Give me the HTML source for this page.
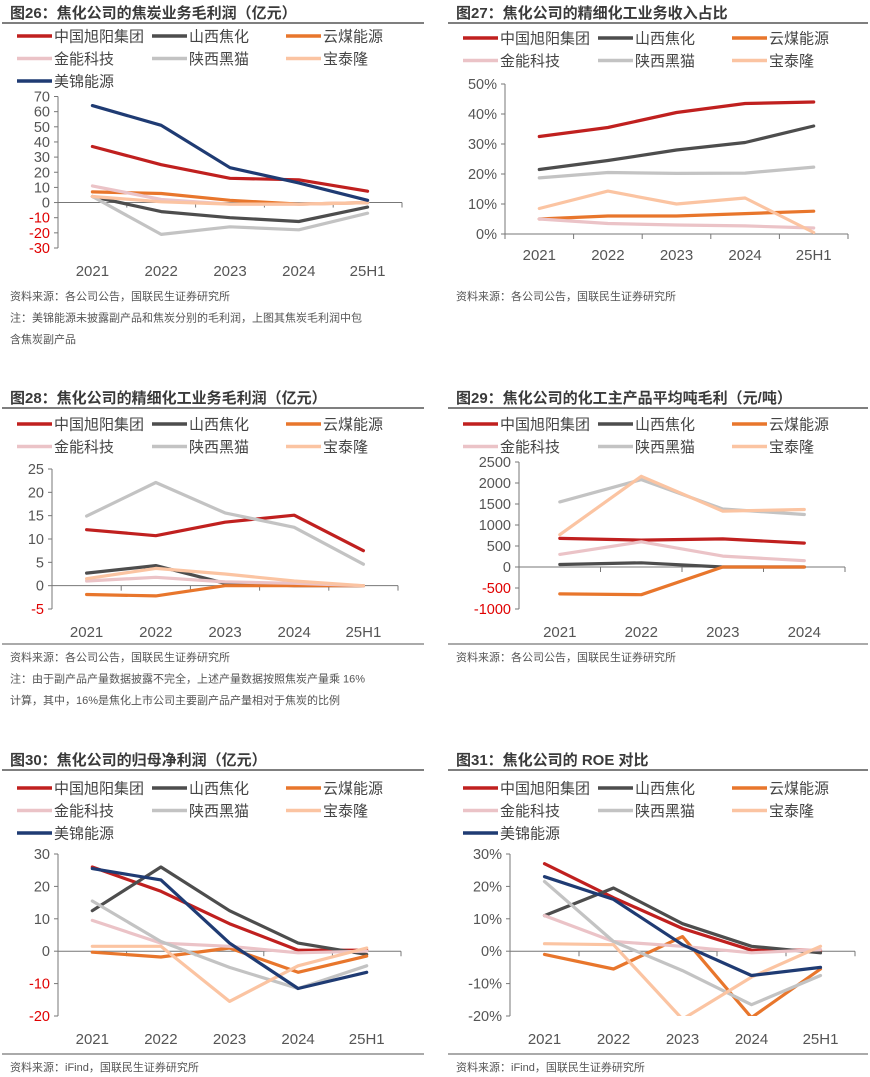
<!DOCTYPE html>
<html><head><meta charset="utf-8">
<style>
html,body{margin:0;padding:0;background:#fff;}
svg{display:block;font-family:"Liberation Sans","Noto Sans CJK SC",sans-serif;}
</style></head>
<body>
<svg id="page" width="870" height="1077" viewBox="0 0 870 1077" xmlns="http://www.w3.org/2000/svg"></svg>
<script>
// ---------- data ----------
const seriesNames = ['中国旭阳集团','山西焦化','云煤能源','金能科技','陕西黑猫','宝泰隆','美锦能源'];
const seriesColors = ['#c0201f','#4d4d4d','#e8762c','#ebc3c7','#c3c3c3','#fbc4a2','#1f3b73'];
const cats5 = ['2021','2022','2023','2024','25H1'];
const cats4 = ['2021','2022','2023','2024'];

// Fig 26
const c26_xuyang = [37,25,16,15,7.5];
const c26_shanxi = [4,-6,-10,-12.5,-3];
const c26_yunmei = [7,6,1.5,-1,0];
const c26_jinneng = [11,2,-1,-1,0];
const c26_heimao = [4,-21,-16,-18,-7];
const c26_baotai = [4,0.5,-1,-1,0];
const c26_meijin = [64,51,23,13,1.5];
const c26_ticks = [70,60,50,40,30,20,10,0,-10,-20,-30];

// Fig 27 (%)
const c27_xuyang = [32.5,35.5,40.5,43.5,44];
const c27_shanxi = [21.5,24.5,28,30.5,36];
const c27_yunmei = [5,6,6,6.8,7.6];
const c27_jinneng = [5,3.5,3,2.7,2];
const c27_heimao = [18.7,20.5,20.2,20.3,22.3];
const c27_baotai = [8.5,14.3,10,12,0.5];
const c27_ticks = [50,40,30,20,10,0];

// Fig 28
const c28_xuyang = [12,10.7,13.6,15.1,7.5];
const c28_shanxi = [2.7,4.3,0.5,0,0];
const c28_yunmei = [-1.9,-2.2,0,0,0];
const c28_jinneng = [1,1.8,0.8,0.5,0];
const c28_heimao = [14.9,22.1,15.6,12.5,4.6];
const c28_baotai = [1.5,3.7,2.5,1,0];
const c28_ticks = [25,20,15,10,5,0,-5];

// Fig 29
const c29_xuyang = [680,640,670,570];
const c29_shanxi = [60,100,0,0];
const c29_yunmei = [-640,-660,0,0];
const c29_jinneng = [300,600,260,150];
const c29_heimao = [1550,2080,1380,1250];
const c29_baotai = [770,2160,1330,1370];
const c29_ticks = [2500,2000,1500,1000,500,0,-500,-1000];

// Fig 30
const c30_xuyang = [26,18.5,8.5,0.3,0.3];
const c30_shanxi = [12.5,26,12.5,2.5,-1];
const c30_yunmei = [-0.3,-1.8,1,-6.5,-1.5];
const c30_jinneng = [9.5,2.5,1.5,-0.5,0];
const c30_heimao = [15.5,3,-5,-11.5,-4.5];
const c30_baotai = [1.5,1.5,-15.5,-4.5,1];
const c30_meijin = [25.5,22,2.5,-11.5,-6.5];
const c30_ticks = [30,20,10,0,-10,-20];

// Fig 31 (%)
const c31_xuyang = [27,16.5,7,0.3,0.3];
const c31_shanxi = [11,19.5,8.5,1.5,-0.5];
const c31_yunmei = [-1,-5.5,4.5,-20.5,-5.5];
const c31_jinneng = [11,3,1.5,-0.5,0.5];
const c31_heimao = [21.5,3,-6,-16.5,-7.5];
const c31_baotai = [2.3,2,-21,-8,1.5];
const c31_meijin = [23,16,2,-7.5,-5];
const c31_ticks = [30,20,10,0,-10,-20];

// ---------- drawing ----------
const NS='http://www.w3.org/2000/svg';
const svg=document.getElementById('page');
function mk(tag,attrs,parent,txt){
  const e=document.createElementNS(NS,tag);
  for(const k in attrs)e.setAttribute(k,attrs[k]);
  if(txt!==undefined)e.textContent=txt;
  (parent||svg).appendChild(e);return e;
}
let clipId=0;
function panel(cfg){
  const g=mk('g',{});
  
  
  // title
  const t=mk('text',{x:cfg.px+8,y:cfg.ty,'font-size':15,'font-weight':'bold',fill:'#3a3a3a'},g,cfg.title);
  
  
  const ul=mk('line',{x1:cfg.px,x2:cfg.px+cfg.pw,y1:cfg.ty+5,y2:cfg.ty+5,stroke:'#555','stroke-width':1.5},g);
  
  
  // legend
  const colX=[cfg.px+15,cfg.px+150,cfg.px+284];
  cfg.series.forEach((s,i)=>{
    const lx=colX[i%3], ly=cfg.ly+Math.floor(i/3)*22.5;
    const lg=mk('g',{},g);
    
    
    mk('line',{x1:lx,x2:lx+35,y1:ly,y2:ly,stroke:seriesColors[s.k],'stroke-width':3.5},lg);
    mk('text',{x:lx+37,y:ly+5.5,'font-size':15,fill:'#444'},lg,seriesNames[s.k]);
  });
  // axes
  const ymax=cfg.ticks[0], ymin=cfg.ticks[cfg.ticks.length-1];
  const yS=v=>cfg.yTop+(ymax-v)/(ymax-ymin)*(cfg.yBot-cfg.yTop);
  const n=cfg.cats.length, step=(cfg.xEnd-cfg.ax)/n;
  const xS=i=>cfg.ax+(i+0.5)*step;
  const ya=mk('line',{x1:cfg.ax,x2:cfg.ax,y1:cfg.yTop,y2:cfg.yBot,stroke:'#777','stroke-width':1},g);
  
  
  cfg.ticks.forEach(v=>{
    const y=yS(v);
    mk('line',{x1:cfg.ax-4,x2:cfg.ax,y1:y,y2:y,stroke:'#777'},g);
    const lab=mk('text',{x:cfg.ax-8,y:y+5,'font-size':14.5,'text-anchor':'end',fill:(v<0&&cfg.redNeg)?'#e00000':'#555'},g,v+(cfg.pct?'%':''));
    
    
  });
  const y0=yS(0);
  const xa=mk('line',{x1:cfg.ax,x2:cfg.xEnd,y1:y0,y2:y0,stroke:'#777','stroke-width':1},g);
  
  
  for(let i=0;i<=n;i++)mk('line',{x1:cfg.ax+i*step,x2:cfg.ax+i*step,y1:y0,y2:y0+5,stroke:'#777'},g);
  cfg.cats.forEach((c,i)=>{
    const lab=mk('text',{x:xS(i),y:cfg.xly,'font-size':15,'text-anchor':'middle',fill:'#555'},g,c);
    
    
  });
  // clip
  const cid='clip'+(clipId++);
  const cp=mk('clipPath',{id:cid},g);
  mk('rect',{x:cfg.ax,y:cfg.yTop-4,width:cfg.xEnd-cfg.ax+10,height:cfg.yBot-cfg.yTop+4},cp);
  const lines=mk('g',{'clip-path':'url(#'+cid+')'},g);
  cfg.series.forEach(s=>{
    const pts=s.d.map((v,i)=>xS(i).toFixed(1)+','+yS(v).toFixed(1)).join(' ');
    const pl=mk('polyline',{points:pts,fill:'none',stroke:seriesColors[s.k],'stroke-width':3.2,'stroke-linejoin':'round','stroke-linecap':'round'},lines);
    
    
  });
  if(cfg.sep){mk('line',{x1:cfg.px,x2:cfg.px+cfg.pw,y1:cfg.sep,y2:cfg.sep,stroke:'#555','stroke-width':1},g);}
  cfg.notes.forEach((nt,i)=>{
    const e=mk('text',{x:cfg.px+8,y:cfg.ny+i*21.5,'font-size':11,fill:'#555'},g,nt);
    
    
  });
}
const S=(k,d)=>({k,d});
panel({id:'chart-fig26',title:'图26：焦化公司的焦炭业务毛利润（亿元）',px:2,pw:422,ty:18,ly:36,
  series:[S(0,c26_xuyang),S(1,c26_shanxi),S(2,c26_yunmei),S(3,c26_jinneng),S(4,c26_heimao),S(5,c26_baotai),S(6,c26_meijin)],
  cats:cats5,ticks:c26_ticks,ax:58,xEnd:402,yTop:96.5,yBot:248,xly:276,redNeg:true,
  notes:['资料来源：各公司公告，国联民生证券研究所','注：美锦能源未披露副产品和焦炭分别的毛利润，上图其焦炭毛利润中包','含焦炭副产品'],ny:300});
panel({id:'chart-fig27',title:'图27：焦化公司的精细化工业务收入占比',px:448,pw:420,ty:18,ly:38,
  series:[S(0,c27_xuyang),S(1,c27_shanxi),S(2,c27_yunmei),S(3,c27_jinneng),S(4,c27_heimao),S(5,c27_baotai)],
  cats:cats5,ticks:c27_ticks,ax:505,xEnd:848,yTop:84,yBot:234,xly:260,pct:true,
  notes:['资料来源：各公司公告，国联民生证券研究所'],ny:300});
panel({id:'chart-fig28',title:'图28：焦化公司的精细化工业务毛利润（亿元）',px:2,pw:422,ty:403,ly:424,
  series:[S(0,c28_xuyang),S(1,c28_shanxi),S(2,c28_yunmei),S(3,c28_jinneng),S(4,c28_heimao),S(5,c28_baotai)],
  cats:cats5,ticks:c28_ticks,ax:52,xEnd:398,yTop:469,yBot:609,xly:637,redNeg:true,sep:644,
  notes:['资料来源：各公司公告，国联民生证券研究所','注：由于副产品产量数据披露不完全，上述产量数据按照焦炭产量乘 16%','计算，其中，16%是焦化上市公司主要副产品产量相对于焦炭的比例'],ny:661});
panel({id:'chart-fig29',title:'图29：焦化公司的化工主产品平均吨毛利（元/吨）',px:448,pw:420,ty:403,ly:424,
  series:[S(0,c29_xuyang),S(1,c29_shanxi),S(2,c29_yunmei),S(3,c29_jinneng),S(4,c29_heimao),S(5,c29_baotai)],
  cats:cats4,ticks:c29_ticks,ax:519,xEnd:845,yTop:462,yBot:609,xly:637,redNeg:true,sep:644,
  notes:['资料来源：各公司公告，国联民生证券研究所'],ny:661});
panel({id:'chart-fig30',title:'图30：焦化公司的归母净利润（亿元）',px:2,pw:422,ty:765,ly:788,
  series:[S(0,c30_xuyang),S(1,c30_shanxi),S(2,c30_yunmei),S(3,c30_jinneng),S(4,c30_heimao),S(5,c30_baotai),S(6,c30_meijin)],
  cats:cats5,ticks:c30_ticks,ax:58,xEnd:401,yTop:854,yBot:1016,xly:1044,redNeg:true,sep:1054,
  notes:['资料来源：iFind，国联民生证券研究所'],ny:1071});
panel({id:'chart-fig31',title:'图31：焦化公司的 ROE 对比',px:448,pw:420,ty:765,ly:788,
  series:[S(0,c31_xuyang),S(1,c31_shanxi),S(2,c31_yunmei),S(3,c31_jinneng),S(4,c31_heimao),S(5,c31_baotai),S(6,c31_meijin)],
  cats:cats5,ticks:c31_ticks,ax:510,xEnd:855,yTop:854,yBot:1016,xly:1044,pct:true,sep:1054,
  notes:['资料来源：iFind，国联民生证券研究所'],ny:1071});
</script>
</body></html>
